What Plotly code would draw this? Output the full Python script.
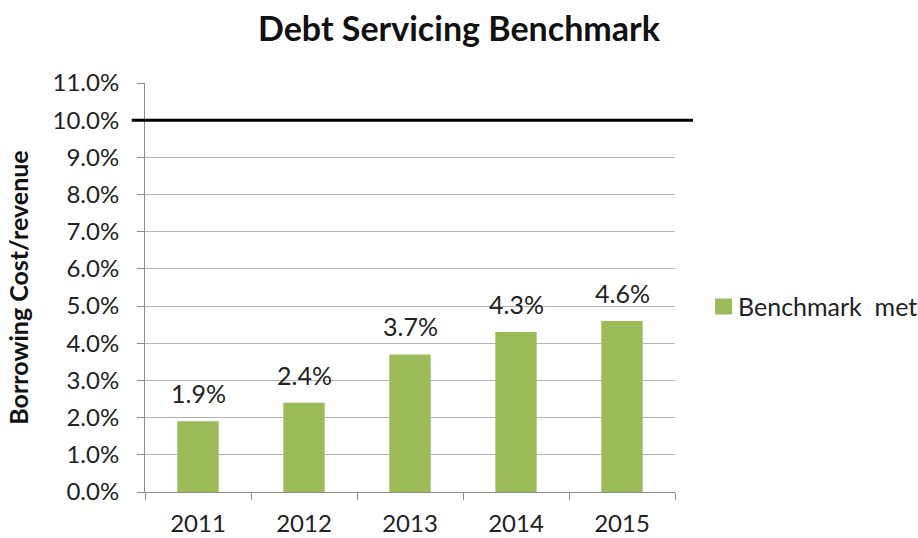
import plotly.graph_objects as go

# Debt servicing ratio per year (borrowing cost as % of revenue)
years = ["2011", "2012", "2013", "2014", "2015"]
ratios = [1.9, 2.4, 3.7, 4.3, 4.6]
benchmark_limit = 10.0
series_name = "Benchmark  met"

FONT = "Lato"
BAR_GREEN = "#9BBB59"
GRID = "#B5B5B5"
AXIS = "#8C8C8C"
TEXT = "#222222"

fig = go.Figure()
fig.add_trace(go.Bar(
    x=years,
    y=ratios,
    name=series_name,
    marker=dict(color=BAR_GREEN, line=dict(width=0)),
    showlegend=False,
))

# value labels above each bar (x given as category index)
for i, v in enumerate(ratios):
    fig.add_annotation(
        x=i, y=v, text=f"{v:.1f}%", showarrow=False,
        xref="x", yref="y",
        yanchor="bottom", yshift=11,
        font=dict(family=FONT, size=25, color=TEXT),
    )

# benchmark ceiling line
fig.add_shape(
    type="line", xref="paper", yref="y",
    x0=-0.025, x1=1.034, y0=benchmark_limit, y1=benchmark_limit,
    line=dict(color="black", width=3),
)

# legend: colour swatch plus series name
fig.add_shape(
    type="rect", xref="paper", yref="paper",
    x0=1.0756, x1=1.1078, y0=0.434, y1=0.473,
    fillcolor=BAR_GREEN, line=dict(width=0),
)
fig.add_annotation(
    xref="paper", yref="paper", x=1.115, y=0.455,
    xanchor="left", yanchor="middle", showarrow=False,
    text=series_name, font=dict(family=FONT, size=25, color=TEXT),
)

fig.update_layout(
    width=918, height=538,
    margin=dict(l=145, r=243, t=83, b=46, autoexpand=False),
    paper_bgcolor="white", plot_bgcolor="white",
    bargap=0.61,
    showlegend=False,
    title=dict(
        text="<b>Debt Servicing Benchmark</b>",
        x=0.5, xanchor="center", y=0.945, yanchor="middle",
        font=dict(family=FONT, size=34, color="#111111"),
    ),
    font=dict(family=FONT, color=TEXT),
)

fig.update_xaxes(
    type="category", range=[-0.5, 4.5], automargin=False,
    showline=True, linecolor=AXIS, linewidth=1,
    ticks="outside", tickson="boundaries", ticklen=7, tickcolor=AXIS,
    ticklabelstandoff=10,
    showgrid=False,
    tickfont=dict(family=FONT, size=24, color=TEXT),
)

fig.update_yaxes(
    range=[0, 11], dtick=1, tick0=0, automargin=False,
    tickformat=".1f", ticksuffix="%",
    showline=True, linecolor=AXIS, linewidth=1,
    ticks="outside", ticklen=7, tickcolor=AXIS,
    ticklabelstandoff=13,
    showgrid=True, gridcolor=GRID, gridwidth=1,
    zeroline=False,
    tickfont=dict(family=FONT, size=24, color=TEXT),
    title=dict(
        text="<b>Borrowing Cost/revenue</b>",
        font=dict(family=FONT, size=25, color="#111111"),
        standoff=16,
    ),
)

fig.write_html("out.html")
